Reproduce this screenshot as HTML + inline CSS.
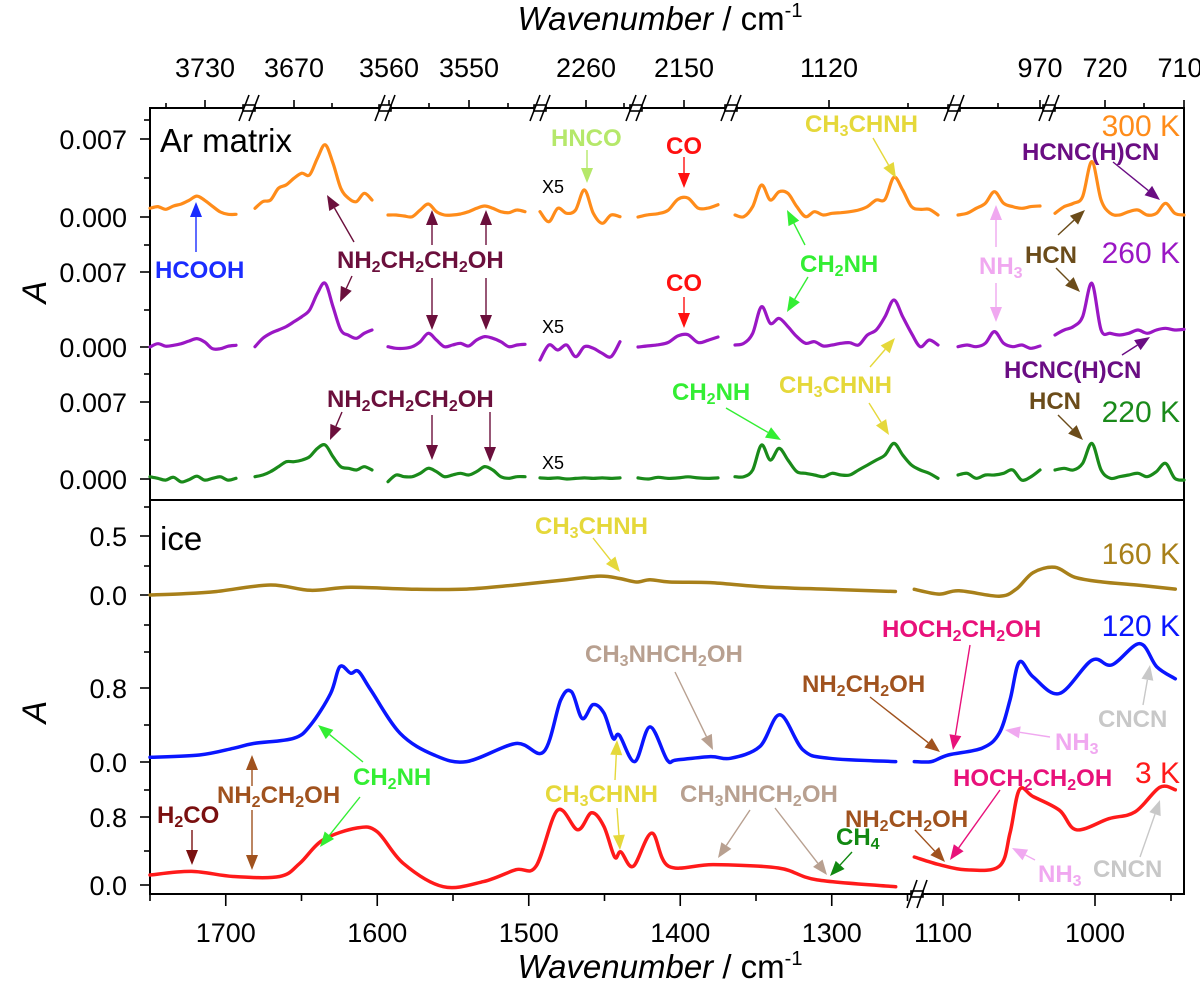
<!DOCTYPE html>
<html><head><meta charset="utf-8"><style>
html,body{margin:0;padding:0;background:#fff;}
svg{display:block;font-family:"Liberation Sans",sans-serif;}
.tk{font-size:27px;fill:#000;}
.an{font-size:24px;font-weight:bold;}
.tl{font-size:30px;}
</style></head><body>
<svg id="chart" width="1200" height="985" viewBox="0 0 1200 985" xmlns="http://www.w3.org/2000/svg">
<rect x="0" y="0" width="1200" height="985" fill="#fff"/>
<g id="frame" stroke="#000" stroke-width="2" fill="none">
<rect x="150" y="108" width="1034" height="786"/>
<line x1="150" y1="500" x2="1184" y2="500"/>
</g>
<g id="ticks" stroke="#000" stroke-width="1.6"></g>
<g id="labels"></g>
<g id="traces" fill="none" stroke-linejoin="round" stroke-linecap="round"></g>
<g id="arrows"></g>

<text x="660" y="30" text-anchor="middle" font-size="33"><tspan font-style="italic">Wavenumber</tspan> / cm<tspan font-size="20" dy="-13">-1</tspan></text>
<text x="660" y="978" text-anchor="middle" font-size="33"><tspan font-style="italic">Wavenumber</tspan> / cm<tspan font-size="20" dy="-13">-1</tspan></text>
<text transform="translate(46,292) rotate(-90)" font-size="34" font-style="italic" text-anchor="middle">A</text>
<text transform="translate(46,712) rotate(-90)" font-size="34" font-style="italic" text-anchor="middle">A</text>

<text x="160" y="152" font-size="33">Ar matrix</text>
<text x="160" y="550" font-size="33">ice</text>

<text class="tl" x="1180" y="136" text-anchor="end" fill="#ff8c1a">300 K</text>
<text class="tl" x="1180" y="263" text-anchor="end" fill="#9a17c4">260 K</text>
<text class="tl" x="1180" y="422" text-anchor="end" fill="#1a8a1a">220 K</text>
<text class="tl" x="1180" y="564" text-anchor="end" fill="#a8801a">160 K</text>
<text class="tl" x="1180" y="636" text-anchor="end" fill="#0a16ff">120 K</text>
<text class="tl" x="1180" y="783" text-anchor="end" fill="#ff1a1a">3 K</text>

<g font-size="18">
<text x="542" y="193">X5</text><text x="542" y="333">X5</text><text x="542" y="469">X5</text>
</g>

<g class="an">
<text x="155" y="278" fill="#1a2cff">HCOOH</text>
<text x="337" y="268" fill="#6b0f3c">NH<tspan baseline-shift="-25%" font-size="16">2</tspan>CH<tspan baseline-shift="-25%" font-size="16">2</tspan>CH<tspan baseline-shift="-25%" font-size="16">2</tspan>OH</text>
<text x="327" y="407" fill="#6b0f3c">NH<tspan baseline-shift="-25%" font-size="16">2</tspan>CH<tspan baseline-shift="-25%" font-size="16">2</tspan>CH<tspan baseline-shift="-25%" font-size="16">2</tspan>OH</text>
<text x="551" y="146" fill="#b5e86a">HNCO</text>
<text x="666" y="154" fill="#ff1010">CO</text>
<text x="666" y="291" fill="#ff1010">CO</text>
<text x="805" y="132" fill="#e5d83a">CH<tspan baseline-shift="-25%" font-size="16">3</tspan>CHNH</text>
<text x="800" y="272" fill="#33ee33">CH<tspan baseline-shift="-25%" font-size="16">2</tspan>NH</text>
<text x="979" y="274" fill="#f0a8f0">NH<tspan baseline-shift="-25%" font-size="16">3</tspan></text>
<text x="1022" y="160" fill="#6a0d83">HCNC(H)CN</text>
<text x="1025" y="263" fill="#6b4c1a">HCN</text>
<text x="1004" y="378" fill="#6a0d83">HCNC(H)CN</text>
<text x="672" y="400" fill="#33ee33">CH<tspan baseline-shift="-25%" font-size="16">2</tspan>NH</text>
<text x="779" y="393" fill="#e5d83a">CH<tspan baseline-shift="-25%" font-size="16">3</tspan>CHNH</text>
<text x="1029" y="409" fill="#6b4c1a">HCN</text>

<text x="535" y="534" fill="#e5d83a">CH<tspan baseline-shift="-25%" font-size="16">3</tspan>CHNH</text>
<text x="585" y="662" fill="#b8a090">CH<tspan baseline-shift="-25%" font-size="16">3</tspan>NHCH<tspan baseline-shift="-25%" font-size="16">2</tspan>OH</text>
<text x="353" y="785" fill="#33ee33">CH<tspan baseline-shift="-25%" font-size="16">2</tspan>NH</text>
<text x="217" y="803" fill="#a0521e">NH<tspan baseline-shift="-25%" font-size="16">2</tspan>CH<tspan baseline-shift="-25%" font-size="16">2</tspan>OH</text>
<text x="157" y="823" fill="#7a1010">H<tspan baseline-shift="-25%" font-size="16">2</tspan>CO</text>
<text x="545" y="802" fill="#e5d83a">CH<tspan baseline-shift="-25%" font-size="16">3</tspan>CHNH</text>
<text x="882" y="637" fill="#e8117a">HOCH<tspan baseline-shift="-25%" font-size="16">2</tspan>CH<tspan baseline-shift="-25%" font-size="16">2</tspan>OH</text>
<text x="802" y="692" fill="#a0521e">NH<tspan baseline-shift="-25%" font-size="16">2</tspan>CH<tspan baseline-shift="-25%" font-size="16">2</tspan>OH</text>
<text x="1098" y="727" fill="#c8c8c8">CNCN</text>
<text x="1055" y="750" fill="#f0a8f0">NH<tspan baseline-shift="-25%" font-size="16">3</tspan></text>
<text x="953" y="786" fill="#e8117a">HOCH<tspan baseline-shift="-25%" font-size="16">2</tspan>CH<tspan baseline-shift="-25%" font-size="16">2</tspan>OH</text>
<text x="680" y="802" fill="#b8a090">CH<tspan baseline-shift="-25%" font-size="16">3</tspan>NHCH<tspan baseline-shift="-25%" font-size="16">2</tspan>OH</text>
<text x="845" y="827" fill="#a0521e">NH<tspan baseline-shift="-25%" font-size="16">2</tspan>CH<tspan baseline-shift="-25%" font-size="16">2</tspan>OH</text>
<text x="836" y="845" fill="#118811">CH<tspan baseline-shift="-25%" font-size="16">4</tspan></text>
<text x="1038" y="882" fill="#f0a8f0">NH<tspan baseline-shift="-25%" font-size="16">3</tspan></text>
<text x="1093" y="877" fill="#c8c8c8">CNCN</text>
</g>
</svg>
<script>
// ---------- top panel (Ar matrix), values in units of 0.001 ----------
const topSegments = [[150,236],[255,372],[388,525],[540,620],[638,718],[735,938],[958,1040],[1055,1184]];
const ar300 = [
 [0.78,0.93,0.69,0.99,1.17,1.5,1.88,1.5,0.96,0.45,0.24,0.24],
 [0.78,1.38,1.53,2.58,2.88,3.48,3.93,3.78,5.28,6.48,4.83,2.58,1.68,1.38,2.13,1.53],
 [0.18,0.18,0.09,0.03,0.63,1.17,0.48,0.18,0.18,0.27,0.48,0.78,0.99,0.78,0.48,0.39,0.63,0.48],
 [0.48,-0.42,0.78,0.33,0.63,2.43,0.33,-0.57,0.18,0.03],
 [0.0,0.2,0.3,0.6,1.6,1.7,0.8,0.8,1.1],
 [0.18,0.03,0.93,2.87,1.53,2.27,2.12,0.93,0.03,0.48,0.18,0.33,0.39,0.48,0.63,0.93,1.53,1.59,3.56,2.42,0.93,0.69,0.69,0.18],
 [0.18,0.33,0.78,1.23,2.27,1.23,0.93,0.78,0.93,0.99],
 [0.33,0.93,1.23,1.83,4.97,1.53,0.33,0.18,0.48,0.63,0.18,0.33,1.23,0.33,0.18]
];
const ar260 = [
 [0,0.3,0.07,0.15,0.3,0.54,0.75,0.45,-0.15,-0.15,0.07,0.15],
 [0.03,0.78,1.23,1.53,1.83,2.27,2.72,3.32,4.82,5.72,3.62,1.53,1.05,0.78,1.23,1.53],
 [0.03,-0.12,-0.12,0.03,0.48,1.23,0.63,0.03,0.18,0.33,0.09,0.63,0.93,0.78,0.48,0.03,0.18,0.24],
 [-1.17,0.18,-0.27,0.18,-0.87,0.03,-0.12,-0.57,-0.87,0.48],
 [0,0.1,0.2,0.4,1.0,1.1,0.4,0.6,0.9],
 [0.18,0.33,1.23,3.62,2.12,2.57,1.82,0.93,0.33,0.48,0.09,0.18,0.33,0.39,0.18,1.08,1.53,2.72,4.22,2.72,1.23,0.03,0.63,0.18],
 [0.03,0.18,0.03,0.33,1.38,0.33,0.03,0.18,-0.12,0.09],
 [1.08,1.53,1.83,2.72,5.72,1.53,1.23,1.08,1.23,1.53,1.23,1.53,1.68,1.53,1.59]
];
const ar220 = [
 [0.2,0.06,-0.1,0.15,-0.26,-0.05,0.25,-0.1,0.06,0.2,-0.1,0.06],
 [0.21,0.36,0.66,1.1,1.55,1.55,1.7,2.0,2.75,3.05,2.0,1.1,0.96,0.81,1.1,0.81],
 [-0.24,0.36,0.21,0.21,0.51,0.96,0.66,0.21,0.36,0.51,0.36,0.66,1.11,0.81,0.21,0.06,0.21,0.21],
 [0.1,0.05,0.1,0.0,0.05,0.1,0.05,0.1,0.05,0.1],
 [0.1,0.0,0.15,0.05,0.1,0.2,0.1,0.05,0.1],
 [0.21,0.21,0.81,3.05,1.7,2.75,1.7,0.66,0.51,0.36,0.21,0.51,0.36,0.36,0.81,1.25,1.7,2.15,3.2,2.15,1.25,0.81,0.51,0.06],
 [0.36,0.51,0.06,0.36,0.36,0.51,0.81,-0.1,0.2,0.81],
 [0.81,0.96,0.81,1.4,3.2,0.81,0.06,0.21,0.36,0.51,0.21,0.66,1.4,0.06,-0.1]
];
const topBaselines = [217,347,479];
const topTickLabels = ['0.007','0.000','0.007','0.000','0.007','0.000'];

// ---------- bottom panel (ice) ----------
const w160 = [1750,1728,1706,1670.5,1644,1617.5,1574,1541,1508.5,1475,1453,1440,1429,1420,1407,1380,1346,1302,1258,1118.9,1102.6,1089.4,1063,1051.8,1040.7,1026.4,1013.2,995,972.6,947.2];
const a160 = [0.0,0.01,0.03,0.085,0.04,0.065,0.048,0.05,0.085,0.13,0.16,0.14,0.11,0.13,0.11,0.105,0.07,0.048,0.03,0.048,0.008,0.036,-0.01,0.05,0.19,0.235,0.15,0.11,0.085,0.05];
const w120 = [1750,1717.4,1695,1681.7,1655.2,1644,1630.8,1624.7,1617.5,1612.4,1604.3,1584.9,1562.5,1541,1508.5,1490.1,1478.9,1471.8,1464.7,1457.5,1450.4,1444.3,1440.2,1430,1420,1408.6,1402.5,1380,1366.8,1347.5,1334.2,1318.9,1301.6,1257.8,1118.9,1107.7,1096.5,1074.2,1063,1055.9,1049.8,1040.7,1023.4,1002.1,988.9,970.6,959.4,947.2];
const a120 = [0.051,0.076,0.148,0.2,0.256,0.4,0.74,1.03,0.96,0.98,0.78,0.31,0.076,0.004,0.2,0.11,0.67,0.76,0.47,0.62,0.53,0.256,0.29,0.004,0.38,0.022,0.022,0.058,0.04,0.166,0.51,0.13,0.04,0.004,0.004,0.004,0.076,0.15,0.31,0.67,1.08,0.92,0.74,1.1,1.05,1.28,1.03,0.9];
const w3 = [1750,1722.5,1695,1664.4,1651.1,1635.9,1613.4,1600.2,1582.9,1556.4,1529.9,1508.5,1495.2,1481,1467.7,1458.5,1450.4,1443.3,1439.2,1431,1418.8,1407.6,1378,1335.2,1309.7,1257.8,1118.9,1102.6,1085.4,1063,1055.9,1049.8,1040.7,1023.4,1012.2,990.9,973.6,957.4,947.2];
const a3 = [0.118,0.16,0.1,0.1,0.255,0.53,0.67,0.63,0.255,-0.02,0.04,0.18,0.22,0.88,0.65,0.85,0.69,0.33,0.39,0.22,0.61,0.22,0.24,0.2,0.06,-0.02,0.33,0.24,0.18,0.22,0.61,1.12,1.04,0.88,0.65,0.78,0.86,1.15,1.12];
const bottomTicks = [1700,1600,1500,1400,1300,1100,1000];
const bottomTickLabels = ['1700','1600','1500','1400','1300','1100','1000'];
const topAxisLabels = ['3730','3670','3560','3550','2260','2150','1120','970','720','710'];

const NS = 'http://www.w3.org/2000/svg';
function xBottom(w){ return w >= 1200 ? 150 + (1750 - w) * 1.515 : 943 + (1100 - w) * 1.52; }
function yTop(v, base){ return base - v * 11.14; }
function y160(v){ return 595 - v * 118; }
function y120(v){ return 762 - v * 92.5; }
function y3(v){ return 885 - v * 85; }

function smoothPath(pts){
  let d = 'M' + pts[0][0].toFixed(1) + ',' + pts[0][1].toFixed(1);
  for (let i = 0; i < pts.length - 1; i++){
    const p0 = pts[i-1] || pts[i], p1 = pts[i], p2 = pts[i+1], p3 = pts[i+2] || p2;
    const c1x = p1[0] + (p2[0]-p0[0])/6, c1y = p1[1] + (p2[1]-p0[1])/6;
    const c2x = p2[0] - (p3[0]-p1[0])/6, c2y = p2[1] - (p3[1]-p1[1])/6;
    d += ' C' + c1x.toFixed(1)+','+c1y.toFixed(1)+' '+c2x.toFixed(1)+','+c2y.toFixed(1)+' '+p2[0].toFixed(1)+','+p2[1].toFixed(1);
  }
  return d;
}
const traces = document.getElementById('traces');
function addPath(pts, color, width, name){
  const p = document.createElementNS(NS, 'path');
  p.setAttribute('d', smoothPath(pts));
  p.setAttribute('stroke', color);
  p.setAttribute('stroke-width', width);
  
  
  traces.appendChild(p);
}
const topSeries = [[ar300,'#ff8c1a','300k'],[ar260,'#9a17c4','260k'],[ar220,'#1a8a1a','220k']];
topSeries.forEach(function(s, k){
  s[0].forEach(function(vals, si){
    const px = topSegments[si];
    const pts = vals.map(function(v, i){ return [px[0] + i/(vals.length-1)*(px[1]-px[0]), yTop(v, topBaselines[k])]; });
    addPath(pts, s[1], 3.2, 'trace-' + s[2] + '-segment-' + (si+1));
  });
});
const bottomSeries = [[w160,a160,y160,'#a8801a','160k'],[w120,a120,y120,'#0a16ff','120k'],[w3,a3,y3,'#ff1a1a','3k']];
bottomSeries.forEach(function(s){
  const left = [], right = [];
  s[0].forEach(function(w, i){ (w >= 1200 ? left : right).push([xBottom(w), s[2](s[1][i])]); });
  addPath(left, s[3], 3.5, 'trace-' + s[4] + '-left');
  addPath(right, s[3], 3.5, 'trace-' + s[4] + '-right');
});

// ---------- ticks ----------
const ticks = document.getElementById('ticks');
function tline(x1,y1,x2,y2,name){
  const l = document.createElementNS(NS,'line');
  l.setAttribute('x1',x1); l.setAttribute('y1',y1); l.setAttribute('x2',x2); l.setAttribute('y2',y2);
  
  
  ticks.appendChild(l);
}
const labels = document.getElementById('labels');
function tlabel(x,y,txt,anchor,name){
  const t = document.createElementNS(NS,'text');
  t.setAttribute('x',x); t.setAttribute('y',y); t.setAttribute('text-anchor',anchor);
  t.setAttribute('class','tk');
  t.textContent = txt;
  
  
  labels.appendChild(t);
}
// bottom axis
bottomTicks.forEach(function(w, i){
  const x = xBottom(w);
  tline(x, 894, x, 906, 'x-tick-major');
  tlabel(x, 942, bottomTickLabels[i], 'middle', 'x-tick-label');
});
[1750,1650,1550,1450,1350,1250,1050,950].forEach(function(w){
  const x = xBottom(w);
  tline(x, 894, x, 901, 'x-tick-minor');
});
// top axis
const topMajorX = [205,294,389,469,586,684,829,1040,1105,1184];
topAxisLabels.forEach(function(txt, i){
  tline(topMajorX[i], 108, topMajorX[i], 100, 'top-tick-major');
  tlabel(topMajorX[i] - (i===9 ? 4 : 0), 77, txt, 'middle', 'top-tick-label');
});
[166,332,429,508,624,908,998,1144].forEach(function(x){ tline(x, 108, x, 103, 'top-tick-minor'); });
// left axis
const leftMajorY = [139,217,272,347,402,479];
leftMajorY.forEach(function(y, i){
  tline(150, y, 140, y, 'y-tick-major');
  tlabel(127, y + 10, topTickLabels[i], 'end', 'y-tick-label');
});
[178,310,440,120,245,374].forEach(function(y){ tline(150, y, 144, y, 'y-tick-minor'); });
const botY = [536,595,688,762,817,885];
const botLbl = ['0.5','0.0','0.8','0.0','0.8','0.0'];
botY.forEach(function(y, i){
  tline(150, y, 140, y, 'y-tick-major');
  tlabel(127, y + 10, botLbl[i], 'end', 'y-tick-label');
});
[507,566,625,652,725,790,851].forEach(function(y){ tline(150, y, 144, y, 'y-tick-minor'); });
// axis break marks
function brk(x, y, h, name){
  const g = document.createElementNS(NS,'g');
  
  
  const r = document.createElementNS(NS,'rect');
  r.setAttribute('x', x-6); r.setAttribute('y', y-3); r.setAttribute('width', 12); r.setAttribute('height', 6); r.setAttribute('fill', '#fff');
  g.appendChild(r);
  [-5,5].forEach(function(o){
    const l = document.createElementNS(NS,'line');
    l.setAttribute('x1', x+o-5); l.setAttribute('y1', y+h); l.setAttribute('x2', x+o+5); l.setAttribute('y2', y-h);
    l.setAttribute('stroke','#000'); l.setAttribute('stroke-width','1.6');
    g.appendChild(l);
  });
  ticks.appendChild(g);
}
[249,385,540,636,731,954,1049].forEach(function(x){ brk(x, 108, 13, 'top-axis-break'); });
brk(917, 894, 14, 'bottom-axis-break');

// ---------- annotation arrows ----------
const arrowsG = document.getElementById('arrows');
function arrow(x1,y1,x2,y2,color,name){
  const g = document.createElementNS(NS,'g');
  
  
  const ang = Math.atan2(y2-y1, x2-x1), L = 15, W = 6;
  const bx = x2 - L*Math.cos(ang), by = y2 - L*Math.sin(ang);
  const l = document.createElementNS(NS,'line');
  l.setAttribute('x1',x1); l.setAttribute('y1',y1); l.setAttribute('x2',bx); l.setAttribute('y2',by);
  l.setAttribute('stroke',color); l.setAttribute('stroke-width','1.4');
  g.appendChild(l);
  const p = document.createElementNS(NS,'polygon');
  const nx = -Math.sin(ang)*W, ny = Math.cos(ang)*W;
  p.setAttribute('points', x2+','+y2+' '+(bx+nx)+','+(by+ny)+' '+(bx-nx)+','+(by-ny));
  p.setAttribute('fill',color);
  g.appendChild(p);
  arrowsG.appendChild(g);
}
const M='#6b0f3c', GR='#33ee33', YL='#e5d83a', PK='#f0a8f0', BR='#6b4c1a', PU='#6a0d83', TN='#b8a090', OR='#a0521e', HP='#e8117a', LG='#c8c8c8';
arrow(196,252,196,202,'#1a2cff','hcooh-arrow');
arrow(354,242,327,195,M,'ethanolamine-arrow-1');
arrow(352,276,340,302,M,'ethanolamine-arrow-2');
arrow(432,245,432,210,M,'ethanolamine-arrow-3');
arrow(432,278,432,330,M,'ethanolamine-arrow-4');
arrow(486,245,486,210,M,'ethanolamine-arrow-5');
arrow(486,278,486,330,M,'ethanolamine-arrow-6');
arrow(342,412,330,440,M,'ethanolamine-arrow-7');
arrow(432,415,432,460,M,'ethanolamine-arrow-8');
arrow(490,412,490,462,M,'ethanolamine-arrow-9');
arrow(587,150,587,183,'#b5e86a','hnco-arrow');
arrow(684,157,684,188,'#ff1010','co-arrow-1');
arrow(684,297,684,328,'#ff1010','co-arrow-2');
arrow(873,138,896,178,YL,'ch3chnh-arrow-1');
arrow(805,245,787,210,GR,'ch2nh-arrow-1');
arrow(808,277,787,312,GR,'ch2nh-arrow-2');
arrow(996,247,996,205,PK,'nh3-arrow-1');
arrow(996,283,996,322,PK,'nh3-arrow-2');
arrow(1113,162,1160,200,PU,'hcnchcn-arrow-1');
arrow(1058,235,1085,210,BR,'hcn-arrow-1');
arrow(1056,268,1080,292,BR,'hcn-arrow-2');
arrow(1122,355,1150,337,PU,'hcnchcn-arrow-2');
arrow(726,408,781,440,GR,'ch2nh-arrow-3');
arrow(870,367,895,338,YL,'ch3chnh-arrow-2');
arrow(869,403,889,435,YL,'ch3chnh-arrow-3');
arrow(1058,415,1083,440,BR,'hcn-arrow-3');
arrow(593,538,620,572,YL,'ch3chnh-arrow-4');
arrow(675,672,713,750,TN,'ch3nhch2oh-arrow-1');
arrow(363,762,318,725,GR,'ch2nh-arrow-4');
arrow(360,797,320,847,GR,'ch2nh-arrow-5');
arrow(252,786,252,755,OR,'nh2ch2oh-arrow-1');
arrow(252,810,252,870,OR,'nh2ch2oh-arrow-2');
arrow(192,830,192,865,'#7a1010','h2co-arrow');
arrow(615,780,617,740,YL,'ch3chnh-arrow-5');
arrow(617,808,620,850,YL,'ch3chnh-arrow-6');
arrow(970,645,953,750,HP,'hoch2ch2oh-arrow-1');
arrow(870,697,940,752,OR,'nh2ch2oh-arrow-3');
arrow(1143,705,1150,665,LG,'cncn-arrow-1');
arrow(1050,737,1005,730,PK,'nh3-arrow-3');
arrow(1000,790,950,860,HP,'hoch2ch2oh-arrow-2');
arrow(750,810,718,858,TN,'ch3nhch2oh-arrow-2');
arrow(775,808,827,875,TN,'ch3nhch2oh-arrow-3');
arrow(915,830,945,862,OR,'nh2ch2oh-arrow-4');
arrow(852,852,830,876,'#118811','ch4-arrow');
arrow(1035,860,1012,848,PK,'nh3-arrow-4');
arrow(1140,857,1160,800,LG,'cncn-arrow-2');
</script>
</body></html>
